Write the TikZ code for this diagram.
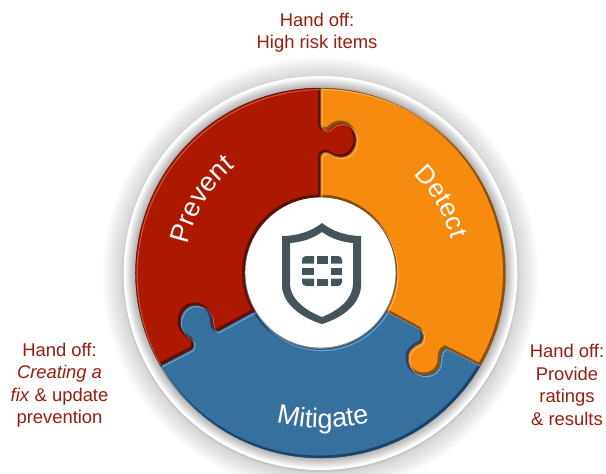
\documentclass[tikz,border=0pt]{standalone}
\usepackage{fontspec}
\setmainfont{Liberation Sans}
\usetikzlibrary{decorations.text}
\definecolor{redp}{HTML}{AD1900}
\definecolor{redd}{HTML}{5E0F08}
\definecolor{redl}{HTML}{E0705A}
\definecolor{orap}{HTML}{F68B10}
\definecolor{orad}{HTML}{8A5010}
\definecolor{oral}{HTML}{FFC880}
\definecolor{blup}{HTML}{35709F}
\definecolor{blud}{HTML}{1D4468}
\definecolor{blul}{HTML}{8DBBDD}
\definecolor{shld}{HTML}{44545A}
\definecolor{hand}{HTML}{9C1C10}
\pgfdeclareradialshading{hubshade}{\pgfpoint{0cm}{0cm}}{color(0bp)=(white);color(40bp)=(white);color(50bp)=(black!14)}
\newcommand{\halo}[1]{\fill[black,opacity=.014] (320.5,275) circle (#1);}
\newcommand{\ringshade}[1]{\fill[black,opacity=.03] (320.5,273) circle (#1);}
\newcommand{\redpath}{(320.5,88) -- (320.5,125) .. controls (321,129) and (325,131) .. (329,129) .. controls (334,124) and (338,123) .. (341,123) .. controls (350,123) and (356,131) .. (356,140) .. controls (356,149) and (350,157) .. (341,157) .. controls (337,157) and (333,156) .. (329,153) .. controls (325,151) and (321,153) .. (320.5,157) -- (320.5,197) arc[start angle=-90,end angle=-210,radius=76] -- (218,331) .. controls (214,331) and (212,326) .. (212,318) .. controls (210,310) and (203,305) .. (195,305) .. controls (186,305) and (180,313) .. (180,322) .. controls (180,330) and (185,335) .. (191,339) .. controls (194,342) and (194,346) .. (192,349) -- (160.3,365.5) arc[start angle=-210,end angle=-90,radius=185] -- cycle}
\newcommand{\orapath}{(320.5,88) -- (320.5,125) .. controls (321,129) and (325,131) .. (329,129) .. controls (334,124) and (338,123) .. (341,123) .. controls (350,123) and (356,131) .. (356,140) .. controls (356,149) and (350,157) .. (341,157) .. controls (337,157) and (333,156) .. (329,153) .. controls (325,151) and (321,153) .. (320.5,157) -- (320.5,197) arc[start angle=-90,end angle=30,radius=76] -- (420,329) .. controls (424,333) and (424,339) .. (421,343) .. controls (414,346) and (408,350) .. (408,358) .. controls (408,368) and (415,375) .. (424,375) .. controls (433,375) and (439,370) .. (440,362) .. controls (440,355) and (441,349) .. (446,348) -- (480.7,365.5) arc[start angle=30,end angle=-90,radius=185] -- cycle}
\newcommand{\blupath}{(254.7,311) arc[start angle=150,end angle=30,radius=76] -- (420,329) .. controls (424,333) and (424,339) .. (421,343) .. controls (414,346) and (408,350) .. (408,358) .. controls (408,368) and (415,375) .. (424,375) .. controls (433,375) and (439,370) .. (440,362) .. controls (440,355) and (441,349) .. (446,348) -- (480.7,365.5) arc[start angle=30,end angle=150,radius=185] -- (192,349) .. controls (194,346) and (194,342) .. (191,339) .. controls (185,335) and (180,330) .. (180,322) .. controls (180,313) and (186,305) .. (195,305) .. controls (203,305) and (210,310) .. (212,318) .. controls (212,326) and (214,331) .. (218,331) -- cycle}
\newcommand{\piece}[4]{%
 \fill[#2] #1;
 \begin{scope}
  \clip #1;
  \draw[#3,line width=3.2pt,shift={(-.9,-.9)}] #1;
  \draw[#4,line width=.9pt,opacity=.75,shift={(1.6,1.6)}] #1;
 \end{scope}
 \draw[#3,line width=.4pt,opacity=.6] #1;
}
\tikzset{
 handoff/.style={text=hand,align=center,font=\fontsize{18.4}{22.5}\selectfont,inner sep=0pt},
}
\begin{document}
\begin{tikzpicture}[x=1pt,y=-1pt]
\useasboundingbox (0,0) rectangle (606,474);
\fill[white] (0,0) rectangle (606,474);
% soft halo of the outer ring
\foreach \r in {218,216,...,198}{\halo{\r}}
\fill[black,opacity=.06] (320.5,274) circle (198);
\fill[white] (320.5,273) circle (197);
\foreach \r in {195,194,...,187}{\ringshade{\r}}
\fill[black!30,opacity=.6] (320.5,273) circle (186);
% puzzle pieces
\piece{\blupath}{blup}{blud}{blul}
\piece{\redpath}{redp}{redd}{redl}
\piece{\orapath}{orap}{orad}{oral}
% hub
\fill[black,opacity=.22] (320.5,272.5) circle (76);
\fill[white] (320.5,272.5) circle (74.8);
\shade[shading=hubshade] (320.5,272.5) circle (74.8);
% shield
\fill[shld,even odd rule] (322,223) .. controls (332,231) and (346,236) .. (361,236) -- (361,285) .. controls (361,304) and (342,318) .. (322,324) .. controls (302,318) and (282,304) .. (282,285) -- (282,236) .. controls (298,236) and (312,231) .. (322,223) -- cycle
 (322,232) .. controls (312,239) and (302,242) .. (290,243) -- (290,284) .. controls (290,299) and (306,311) .. (322,317) .. controls (338,311) and (353,299) .. (353,284) -- (353,243) .. controls (342,242) and (332,239) .. (322,232) -- cycle;
\fill[shld] (302,263.5) [rounded corners=4pt] -- (302,256) [sharp corners] -- (314,256) -- (314,263.5) -- cycle;
\fill[shld] (317,256) rectangle (328,263.5);
\fill[shld] (342,263.5) [rounded corners=4pt] -- (342,256) [sharp corners] -- (331,256) -- (331,263.5) -- cycle;
\fill[shld] (302,268) rectangle (313.5,274.5);
\fill[shld] (331,268) rectangle (342,274.5);
\fill[shld] (302,278.5) [rounded corners=4pt] -- (302,286) [sharp corners] -- (314,286) -- (314,278.5) -- cycle;
\fill[shld] (317,278.5) rectangle (328,286);
\fill[shld] (342,278.5) [rounded corners=4pt] -- (342,286) [sharp corners] -- (331,286) -- (331,278.5) -- cycle;
% wheel labels on arcs
\path[decorate,decoration={text along path,text align=center,text={|\fontsize{27}{27}\selectfont\color{white}|Prevent}}]
 (320.5,273) ++(-195:136) arc[start angle=-195,end angle=-102,radius=136];
\path[decorate,decoration={text along path,text align=center,text={|\fontsize{26}{26}\selectfont\color{white}|Detect}}]
 (320.5,273) ++(-75:135) arc[start angle=-75,end angle=14,radius=135];
\path[decorate,decoration={text along path,text align=center,text={|\fontsize{27}{27}\selectfont\color{white}|Mitigate}}]
 (323,238) ++(118:190) arc[start angle=118,end angle=62,radius=190];
% hand-off labels
\node[handoff] (hTop) at (317,32.5) {Hand off:\\High risk items};
\node[handoff] (hLeft) at (59.5,385) {Hand off:\\\textit{Creating a}\\\textit{fix} \& update\\prevention};
\node[handoff] (hRight) at (567,385) {Hand off:\\Provide\\ratings\\\& results};
\end{tikzpicture}
\end{document}
